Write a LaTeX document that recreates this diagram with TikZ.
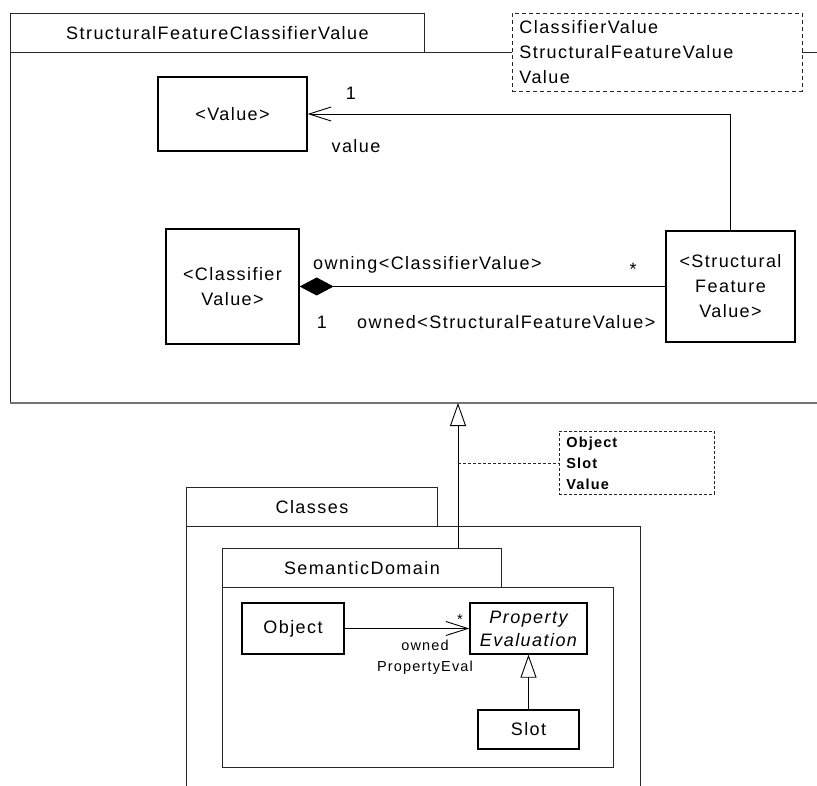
\documentclass[tikz,border=0pt]{standalone}
\usepackage{fontspec}
\setmainfont{Liberation Sans}[LetterSpace=8]
\usetikzlibrary{arrows.meta}
\begin{document}
\begin{tikzpicture}[x=1pt,y=-1pt,
  big/.style={font=\fontsize{18pt}{24.5pt}\selectfont},
  cls/.style={draw=black, line width=1.3pt, fill=white, big, align=center, inner sep=0pt},
  tabbox/.style={draw=black!85, line width=0.9pt, fill=white, big, inner sep=0pt, anchor=north west},
  pkgline/.style={draw=black!85, line width=0.9pt},
  notebox/.style={draw=black!85, line width=0.8pt, fill=white, anchor=north west, align=left, inner ysep=0pt, inner xsep=7pt},
  lbl/.style={big, inner sep=0pt},
  smalllbl/.style={font=\fontsize{14.5pt}{21pt}\selectfont, inner sep=0pt, align=center},
  assoc/.style={draw=black, line width=0.9pt},
  openarrow/.style={-{Straight Barb[length=22pt,width=14pt,line width=0.9pt]}},
  genarrow/.style={-{Triangle[open,length=23pt,width=16pt,fill=white,line width=0.9pt]}},
]
\useasboundingbox (0,0) rectangle (817,786);

% ---------- top package ----------
\draw[pkgline] (10,52) -- (817,52);
\draw[pkgline] (10,52) -- (10,403);
\coordinate (g1) at (458,403);
\draw[draw=black!55, line width=1.6pt] (10,403) -- (817,403);
\node[tabbox, minimum width=414pt, minimum height=39pt] (sfcvtab) at (10,13) {StructuralFeatureClassifierValue};

\node[notebox, dash pattern=on 4pt off 3pt, font=\fontsize{18pt}{25pt}\selectfont,
      text width=276pt, minimum height=78pt] (note1) at (512,13)
  {ClassifierValue\\StructuralFeatureValue\\Value};

\node[cls, minimum width=149pt, minimum height=74pt] (value) at (232.5,114) {<Value>};
\node[cls, minimum width=133pt, minimum height=115pt] (cv) at (232.5,286.5) {<Classifier\\Value>};
\node[cls, minimum width=129pt, minimum height=111pt, font=\fontsize{18pt}{25pt}\selectfont] (sfv) at (730.5,286.5) {<Structural\\Feature\\Value>};

\draw[assoc, openarrow] (sfv.north) |- (value.east);
\node[lbl] (m1) at (351,93) {1};
\node[lbl] (rv) at (356,146) {value};

\draw[assoc, {Diamond[length=34pt,width=18pt]}-] (cv.east) -- (sfv.west);
\node[lbl, anchor=west] (rowning) at (313,265) {owning<ClassifierValue>};
\node[lbl] (mstar) at (633,269) {*};
\node[lbl] (mone) at (322,322) {1};
\node[lbl, anchor=west] (rowned) at (357,322) {owned<StructuralFeatureValue>};

% ---------- Classes package ----------
\draw[pkgline] (186,786) -- (186,526) -- (640,526) -- (640,786);
\node[tabbox, minimum width=251pt, minimum height=39pt] (classestab) at (186,487) {Classes};

\node[tabbox, minimum width=279pt, minimum height=39pt] (sdtab) at (222,548) {SemanticDomain};
\draw[pkgline] (222,587) rectangle (613,767);

\draw[assoc, genarrow] (sdtab.north -| g1) -- (g1);

\node[notebox, dash pattern=on 3pt off 2pt, font=\bfseries\fontsize{14.5pt}{21pt}\selectfont,
      text width=141pt, minimum height=63pt] (note2) at (559,431)
  {Object\\Slot\\Value};
\draw[draw=black!85, line width=0.8pt, dash pattern=on 3pt off 2pt] (note2.west -| g1) -- (note2.west);

\node[cls, minimum width=102pt, minimum height=51pt] (object) at (293,628.5) {Object};
\node[cls, minimum width=117pt, minimum height=51pt, font=\itshape\fontsize{18pt}{23pt}\selectfont] (pe) at (528.5,628.5) {Property\\Evaluation};
\node[cls, minimum width=101pt, minimum height=39pt] (slot) at (528.5,729.5) {Slot};

\draw[assoc, openarrow] (object.east) -- (pe.west);
\node[smalllbl] (pstar) at (460,620) {*};
\node[smalllbl] (rope) at (425,657.5) {owned\\PropertyEval};

\draw[assoc, genarrow] (slot.north) -- (pe.south);
\end{tikzpicture}
\end{document}
